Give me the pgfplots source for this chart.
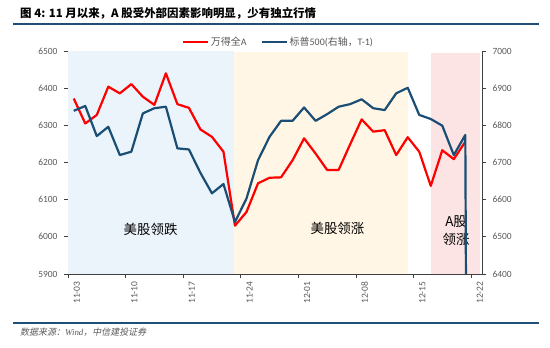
\documentclass[border=0pt]{standalone}
\usepackage{pgfplots}
\pgfplotsset{compat=1.18}
\usepackage{fontspec}
\setmainfont{Carlito}
\newfontfamily\cjk{Noto Sans CJK SC}
\newfontfamily\cjksl{Noto Sans CJK SC}[FakeSlant=0.2]
\newfontfamily\tnr{Liberation Serif}
\definecolor{rulecol}{HTML}{1F4E79}
\definecolor{spblue}{HTML}{1A4E75}
\definecolor{wred}{HTML}{FF0000}
\definecolor{bandblue}{HTML}{EBF3FB}
\definecolor{bandyellow}{HTML}{FFF6E5}
\definecolor{bandpink}{HTML}{FDE4E4}
\definecolor{lblgray}{HTML}{595959}
\definecolor{axgray}{HTML}{404040}
\pgfplotstableread{
i red
0 6372
1 6305
2 6328
3 6404
4 6386
5 6411
6 6377
7 6355
8 6440
9 6357
10 6347
11 6289
12 6269
13 6229
14 6030
15 6067
16 6144
17 6159
18 6160
19 6206
20 6265
21 6224
22 6180
23 6180
24 6249
25 6316
26 6283
27 6287
28 6220
29 6268
30 6229
31 6137
32 6233
33 6209
34 6256
}\datatab
\pgfplotstableread{
i blue
0 6839
1 6852
2 6771
3 6796
4 6720
5 6729
6 6832
7 6846
8 6850
9 6738
10 6735
11 6672
12 6617
13 6642
14 6540
15 6603
16 6706
17 6769
18 6812
19 6812
20 6848
21 6812
22 6830
23 6850
24 6857
25 6870
26 6846
27 6841
28 6886
29 6901
30 6828
31 6817
32 6799
33 6720
34 6774
35 0
}\spxtab
\begin{document}
\begin{tikzpicture}
\useasboundingbox (0bp,0bp) rectangle (550bp,348bp);
% title
\node[anchor=west, inner sep=0pt] at (20bp,335bp) {\fontsize{11.5}{13}\selectfont\bfseries\cjk 图 4: 11 月以来，A 股受外部因素影响明显，少有独立行情};
\draw[rulecol, line width=1.6bp] (13bp,324bp) -- (539bp,324bp);
\pgfplotsset{
  common/.style={
    at={(68bp,74bp)}, anchor=south west,
    width=414bp, height=223bp, scale only axis,
    xmin=-0.5, xmax=35.45,
    tick label style={font=\fontsize{9.5}{10}\selectfont, text=lblgray},
    /pgf/number format/1000 sep={},
    /pgf/number format/assume math mode=true,
    axis line style={axgray, line width=0.9bp},
    tick style={axgray, line width=0.8bp},
    major tick length=4bp,
    tick align=outside,
    clip=true,
  }
}
\begin{axis}[common,
  ymin=5900, ymax=6500,
  ytick={5900,6000,...,6500},
  axis y line*=left, axis x line*=bottom,
  xtick={-0.5,4.5,...,34.5},
  xticklabels={},
  extra x ticks={0,5,...,35},
  extra x tick labels={11-03,11-10,11-17,11-24,12-01,12-08,12-15,12-22},
  extra x tick style={tick style={draw=none}},
  xticklabel style={rotate=90, anchor=east, yshift=-3bp},
  yticklabel style={xshift=-3bp},
]
\addplot[fill=bandblue, draw=none] coordinates {(-0.5,6500) (13.92,6500)} \closedcycle;
\addplot[fill=bandyellow, draw=none] coordinates {(13.92,6497) (29.0,6497)} \closedcycle;
\addplot[fill=bandpink, draw=none] coordinates {(31.02,6494) (35.3,6494)} \closedcycle;
\addplot[wred, line width=2.2bp, line join=round] table[x=i, y=red] {\datatab};
\node[font=\fontsize{13.5}{15}\selectfont\cjk] at (axis cs:6.67,6021) {美股领跌};
\node[font=\fontsize{13.5}{15}\selectfont\cjk] at (axis cs:22.9,6024) {美股领涨};
\node[font=\fontsize{13.5}{18}\selectfont\cjk, align=center] at (axis cs:33.2,6016) {A股\\领涨};
\end{axis}
\begin{axis}[common,
  ymin=6400, ymax=7000,
  ytick={6400,6500,...,7000},
  axis y line*=right, axis x line=none,
  yticklabel style={xshift=3bp},
  legend style={at={(0.508,1.0)}, anchor=south, yshift=1bp, draw=none, fill=none,
    legend columns=2, font=\fontsize{10}{12}\selectfont, text=lblgray,
    /tikz/every even column/.append style={column sep=12bp},
    inner sep=1bp},
  legend image code/.code={\draw[#1] (0bp,0bp) -- (25bp,0bp);},
]
\addlegendimage{wred, line width=2.2bp}
\addlegendentry{{\cjk 万得全}A}
\addplot[spblue, line width=2.2bp, line join=round] table[x=i, y=blue] {\spxtab};
\addlegendentry{{\cjk 标普}500({\cjk 右轴，}T-1)}
\end{axis}
\draw[rulecol, line width=1.2bp] (13bp,25bp) -- (539bp,25bp);
\node[anchor=west, inner sep=0pt, text=lblgray] at (20bp,16bp) {\fontsize{9}{11}\selectfont\cjksl 数据来源：{\tnr\itshape Wind}，中信建投证券};
\end{tikzpicture}
\end{document}
